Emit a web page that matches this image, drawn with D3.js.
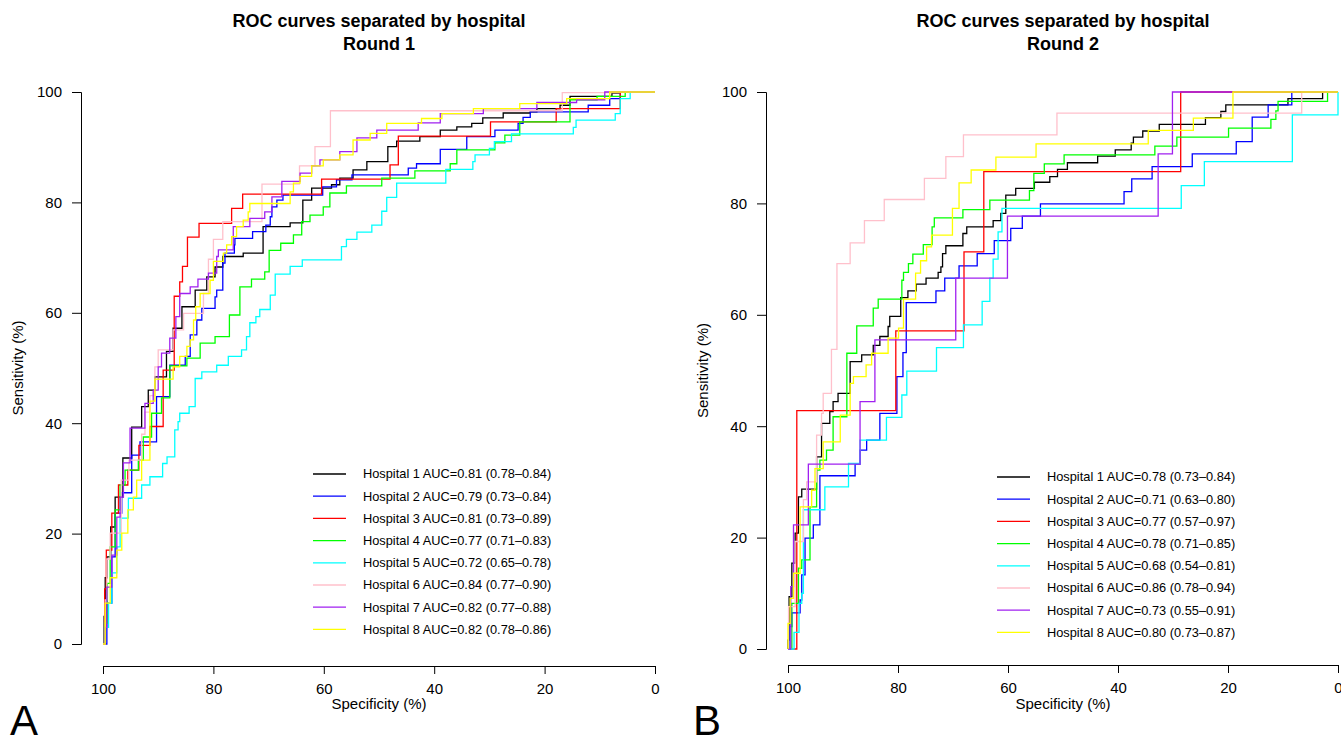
<!DOCTYPE html>
<html>
<head>
<meta charset="utf-8">
<script src="https://cdn.jsdelivr.net/npm/d3@7"></script>
<style>
  body { margin: 0; background: white; }
  text { font-family: "Liberation Sans", Arial, Helvetica, sans-serif; }
</style>
</head>
<body>
<script>
const hospitals = ["Hospital 1", "Hospital 2", "Hospital 3", "Hospital 4", "Hospital 5", "Hospital 6", "Hospital 7", "Hospital 8"];
const colors = ["black", "blue", "red", "#00ff00", "cyan", "pink", "#a020f0", "yellow"];
const ticks = [0, 20, 40, 60, 80, 100];

const aucR1 = [0.81, 0.79, 0.81, 0.77, 0.72, 0.84, 0.82, 0.82];
const loR1  = [0.78, 0.73, 0.73, 0.71, 0.65, 0.77, 0.77, 0.78];
const hiR1  = [0.84, 0.84, 0.89, 0.83, 0.78, 0.90, 0.88, 0.86];
const aucR2 = [0.78, 0.71, 0.77, 0.78, 0.68, 0.86, 0.73, 0.80];
const loR2  = [0.73, 0.63, 0.57, 0.71, 0.54, 0.78, 0.55, 0.73];
const hiR2  = [0.84, 0.80, 0.97, 0.85, 0.81, 0.94, 0.91, 0.87];

// [specificity, sensitivity] in %, step after each point
const r1h1 = [[100,0],[99.8,5],[99.6,12],[99.3,15.8],[98.6,21.2],[97.8,26.6],[96.4,33.7],[94.8,39.3],[93,43],[91.8,46],[90.6,48.4],[88.5,53],[87.3,57.2],[85.7,61.1],[83.3,64.1],[81.2,66.5],[79.7,68.3],[78.3,70.2],[74.6,70.8],[71,75.6],[66.1,76.3],[63.8,80.4],[62.2,82.6],[58.6,83.2],[57.1,84.4],[54.7,85.9],[52.2,87.4],[48.4,90.1],[46.8,91.1],[42.6,91.9],[38.9,93.1],[35.9,93.7],[33.2,94.3],[31.2,95.3],[27.5,96.2],[22.6,96.4],[21.4,97],[17.2,97.6],[15.4,99.2],[7.8,99.8],[6.3,100],[0,100]];
const r1h2 = [[100,0],[99.3,7.4],[98.4,15.8],[97.8,23.7],[96.6,27.4],[94.8,34.2],[93.3,36.6],[90.3,44.8],[87.9,50.5],[85.1,52.1],[84.2,56.0],[83.0,58.7],[82.1,60.8],[79.7,62.9],[79.4,64.1],[78.3,69.0],[77.9,70.8],[76.2,72.3],[76.1,73.5],[72.9,74.7],[70.5,75.9],[69.7,77.4],[69.4,79.2],[68.5,80.4],[67.4,81.3],[60.2,82.8],[57.7,84.1],[54.9,85.0],[44.7,86.2],[43.2,87.0],[38.9,89.6],[34.1,91.9],[29.0,93.1],[24.8,94.3],[23.9,95.4],[22.6,96.4],[12.1,97.6],[8.2,98.8],[6.3,100],[0,100]];
const r1h3 = [[100,0],[99.7,10],[99.4,17],[98.4,23.7],[97.2,28.8],[95.5,31.5],[93.5,36],[91.5,39.4],[89.1,49.6],[87.1,63.0],[86.1,65.6],[85.6,68.4],[84.7,73.7],[82.6,76.2],[76.7,78.9],[74.7,81.5],[60.4,84.2],[48.0,86.8],[46.5,92.0],[29.8,94.6],[17.9,97.0],[6.3,100],[0,100]];
const r1h4 = [[100,0],[99.6,3.8],[99.2,11],[98.7,17.6],[97.8,24.3],[96.9,28.8],[96.0,31.5],[93.6,33.3],[92.7,37.5],[91.2,41.8],[89.4,44.6],[87.9,50.4],[84.8,51.8],[82.4,54.5],[79.7,55.7],[77.1,59.6],[75.2,64.7],[73.1,66.1],[70.7,67.4],[69.9,71.3],[67.8,72.6],[65.5,74.1],[64.0,76.5],[62.5,77.7],[60.1,79.2],[58.9,81.7],[55.9,83.0],[49.5,84.4],[43.5,85.7],[37.1,87.0],[35.9,89.5],[29.0,90.8],[27.2,92.2],[24.5,94.6],[15.4,98.6],[10.5,99.2],[5.4,100],[0,100]];
const r1h5 = [[100,0],[99.6,3],[99.0,7.4],[98.4,12.9],[97.5,17.6],[96.9,22.8],[95.4,26.4],[93.0,28.8],[91.5,30.3],[89.2,32.7],[88.4,33.9],[87.0,38.8],[86.4,40.3],[86.1,41.8],[84.4,43.0],[83.3,48.1],[82.1,49.3],[79.4,50.5],[77.3,52.1],[74.9,53.3],[74.0,55.7],[73.4,58.2],[72.3,59.3],[71.6,60.6],[69.7,63.2],[68.8,67.0],[66.1,68.4],[63.9,69.6],[56.8,72.0],[55.9,73.3],[54.0,74.6],[51.3,75.9],[49.5,78.4],[48.6,80.9],[46.8,83.5],[37.9,86.0],[33.0,87.4],[32.6,88.6],[30.0,89.8],[29.1,91.0],[26.0,92.4],[14.8,93.6],[14.3,94.9],[7.2,96.1],[6.3,98.8],[4.5,100],[0,100]];
const r1h6 = [[100,0],[99.6,8],[99.3,15.4],[98.7,20.1],[96.7,29.7],[95.3,33.3],[93,38],[92.4,42],[91.5,45],[90.6,50.2],[90.0,53.3],[87.3,56.9],[85.4,59.9],[81.8,63.5],[80.9,69.7],[80.0,73.3],[78.3,76.5],[71.2,83.3],[64.4,86.6],[61.6,90.1],[58.8,96.6],[16.8,99.9],[6.5,100],[0,100]];
const r1h7 = [[100,0],[99.6,3],[99.3,10.3],[98.4,16.1],[97.5,23],[96.9,26.6],[96.3,32.8],[95.1,39.1],[92.4,43.6],[90.9,46],[90.0,50.2],[89.4,52.7],[87.9,55.4],[86.8,59.3],[86.1,63.5],[84.2,64.7],[82.8,66.1],[80.9,67.2],[79.4,70.2],[79.1,71.4],[76.4,75.6],[73.4,77.1],[70.7,78.3],[69.4,81.0],[67.6,83.8],[64.3,85.3],[62.2,86.6],[60.7,87.7],[57.1,89.2],[54.0,91.7],[50.4,93.1],[42.9,94.4],[38.9,96.1],[31.1,97.0],[21.4,98.1],[14.2,98.6],[9.1,100],[0,100]];
const r1h8 = [[100,0],[99.6,7.4],[98.7,12],[97.5,17],[96.6,20.1],[95.5,24.3],[94.5,26.6],[93.9,29.7],[93.0,33.3],[91.5,44],[90.6,48],[87.3,50.2],[86.1,52.1],[84.8,53.9],[84.2,55.1],[83.6,58.7],[83.2,61.1],[82.4,63.5],[80.6,65.9],[80.0,69.3],[78.2,70.8],[77.6,72.3],[76.7,73.8],[75.8,75.6],[74.6,76.8],[73.7,78.3],[73.4,79.8],[66.1,81.9],[65.5,83.5],[64.3,84.7],[62.2,86.6],[60.1,87.7],[57.1,88.6],[54.7,91.3],[51.6,92.5],[48.6,94.3],[42.3,95.2],[38.6,96.1],[32.9,97.0],[24.5,97.9],[16.0,98.8],[8.2,100],[0,100]];

const r2h1 = [[100,0],[100,1.6],[99.8,9.4],[99.3,15.4],[98.7,20.8],[98.1,27.3],[97.5,28.7],[94.8,34.5],[93.9,40.5],[92.4,42.6],[91.8,44.4],[90.9,45.9],[88.7,51.6],[86.6,52.8],[84.5,54.5],[83.3,56.1],[81.8,57.9],[81.5,59.7],[79.5,63.1],[78.2,64.3],[76.7,65.5],[74.9,66.6],[72.7,67.6],[72.2,68.6],[71.9,71.0],[71.3,72.4],[68.2,74.6],[67.5,75.8],[62.7,76.9],[61.3,78.2],[60.4,81.5],[58.6,82.7],[55.2,83.8],[52.4,84.8],[51.0,86.1],[49.2,87.3],[43.7,88.5],[40.5,89.6],[37.6,90.8],[37.2,91.9],[35.5,93.0],[32.5,94.2],[24.1,95.4],[21.3,96.5],[20.4,97.7],[9.1,98.8],[2.8,100],[0,100]];
const r2h2 = [[100,0],[99.8,4.0],[99.3,6.5],[97.8,8.8],[97.5,13.3],[96.9,19.9],[95.4,22.3],[94.2,31.1],[87.8,33.2],[86.9,35.7],[85.7,37.5],[83.3,42.3],[80.2,48.9],[79.1,53.2],[78.5,62.2],[73.1,64.3],[71.5,66.6],[68.9,68.8],[65.6,71.0],[62.5,73.3],[59.5,75.5],[57.4,77.7],[54.1,79.9],[38.9,82.1],[37.5,84.4],[33.8,86.6],[26.5,88.9],[18.5,91.1],[15.6,95.5],[12.7,97.7],[8.4,100],[0,100]];
const r2h3 = [[100,0],[98.4,0],[98.4,42.8],[80.4,57.1],[68.0,71.3],[64.4,85.7],[28.6,100],[0,100]];
const r2h4 = [[100,0],[99.6,0],[99.3,8.2],[98.1,14.5],[97.5,16],[96.0,25.5],[94.8,32.1],[94.2,33.9],[93.0,35.7],[91.8,41.7],[89.3,53.1],[87.5,58.0],[84.5,61.2],[83.6,62.8],[79.3,66.2],[79.0,67.6],[78.1,69.2],[77.3,70.9],[75.4,72.6],[73.8,75.8],[73.4,77.4],[68.2,78.9],[63.3,80.6],[56.1,82.3],[55.3,85.4],[53.4,87.1],[49.8,88.7],[33.3,90.3],[29.3,91.9],[19.9,93.5],[12.2,95.1],[11.3,96.6],[10.9,98.3],[1.9,100],[0,100]];
const r2h5 = [[100,0],[98.9,3],[98.0,8.2],[97.5,10],[97.2,25.0],[93.3,29.1],[89.0,33.3],[86.9,37.5],[82.1,41.6],[79.3,45.6],[78.4,49.9],[73.0,54.1],[68.1,58.2],[64.7,62.4],[63.3,66.6],[62.7,70],[61.8,74.9],[61.1,79.1],[28.5,83.2],[24.3,87.5],[8.3,95.9],[0,100]];
const r2h6 = [[100,0],[99.9,7.6],[98.7,19.3],[97.2,26.8],[96.6,30],[94.8,38.4],[93.9,42.3],[93.6,45.9],[92.1,53.8],[91.1,69.2],[88.7,72.9],[86.1,76.9],[82.5,80.7],[75.2,84.5],[71.3,88.4],[68.1,92.3],[51.1,96.2],[6.6,100],[0,100]];
const r2h7 = [[100,0],[99.5,0],[99.5,11.2],[99.0,22.3],[96.3,33.2],[86.9,44.4],[84.2,55.5],[69.5,66.6],[60.1,77.7],[32.7,88.9],[30.1,100],[0,100]];
const r2h8 = [[100,0],[100,4.6],[99.6,9.1],[99.0,13.6],[97.8,25.5],[95.7,28.5],[95.1,32.4],[93.6,37.2],[90.5,42.0],[88.7,47.7],[88.1,48.9],[85.8,51.0],[84.8,53.1],[81.8,55.8],[79.9,57.6],[79.0,62.8],[76.8,67.5],[75.9,69.7],[74.8,72.2],[73.9,74.3],[70.1,79.1],[68.9,83.7],[66.7,86.0],[62.2,88.3],[54.9,90.7],[34.5,93.1],[26.3,95.3],[19.1,100],[0,100]];

const panels = [
  {round: "Round 1", letter: "A", curves: [r1h1, r1h2, r1h3, r1h4, r1h5, r1h6, r1h7, r1h8],
   auc: aucR1, lo: loR1, hi: hiR1,
   x0: 103, x1: 655, y0: 644, y1: 92, xAxisY: 666, yAxisX: 81, legX: 313, legY: 474, ylabX: 18, letterX: 10},
  {round: "Round 2", letter: "B", curves: [r2h1, r2h2, r2h3, r2h4, r2h5, r2h6, r2h7, r2h8],
   auc: aucR2, lo: loR2, hi: hiR2,
   x0: 788, x1: 1338, y0: 649, y1: 92, xAxisY: 665, yAxisX: 766, legX: 997, legY: 477, ylabX: 703, letterX: 693}
];

const svg = d3.select("body").append("svg")
    .attr("width", 1341)
    .attr("height", 738);

const fmt = d3.format(".2f");

panels.forEach(p => {
  const x = d3.scaleLinear().domain([100, 0]).range([p.x0, p.x1]);
  const y = d3.scaleLinear().domain([0, 100]).range([p.y0, p.y1]);
  const cx = p.yAxisX + (p.x1 + 22 - p.yAxisX) / 2;

  const g = svg.append("g");

  // axes
  const xa = g.append("g")
      .attr("transform", `translate(0,${p.xAxisY})`)
      .call(d3.axisBottom(x).tickValues(ticks).tickSizeOuter(0).tickSize(8).tickPadding(9));
  const ya = g.append("g")
      .attr("transform", `translate(${p.yAxisX},0)`)
      .call(d3.axisLeft(y).tickValues(ticks).tickSizeOuter(0).tickSize(9).tickPadding(10));
  [xa, ya].forEach(a => {
    a.selectAll("text").style("font-size", "15px").attr("fill", "#000");
    a.selectAll("line, path").attr("stroke", "#000").attr("stroke-width", 1);
    a.attr("font-family", null);
  });

  // titles
  g.append("text").attr("x", cx).attr("y", 27).attr("text-anchor", "middle")
      .style("font-size", "18px").style("font-weight", "bold").text("ROC curves separated by hospital");
  g.append("text").attr("x", cx).attr("y", 50).attr("text-anchor", "middle")
      .style("font-size", "18px").style("font-weight", "bold").text(p.round);

  g.append("text").attr("x", cx).attr("y", 709).attr("text-anchor", "middle")
      .style("font-size", "15px").text("Specificity (%)");
  g.append("text")
      .attr("transform", `translate(${p.ylabX + 5},${(p.y0 + p.y1) / 2}) rotate(-90)`)
      .attr("text-anchor", "middle")
      .style("font-size", "15px").text("Sensitivity (%)");

  g.append("text").attr("x", p.letterX).attr("y", 735)
      .style("font-size", "42px").text(p.letter);

  // curves
  const line = d3.line()
      .x(d => x(d[0]))
      .y(d => y(d[1]))
      .curve(d3.curveStepAfter);

  g.selectAll("path.roc")
      .data(p.curves)
    .enter().append("path")
      .attr("class", "roc")
      .attr("d", line)
      .attr("fill", "none")
      .attr("stroke", (d, i) => colors[i])
      .attr("stroke-width", 1.3);

  // legend
  const leg = g.selectAll("g.leg")
      .data(hospitals)
    .enter().append("g")
      .attr("class", "leg")
      .attr("transform", (d, i) => `translate(${p.legX},${p.legY + i * 22.2})`);
  leg.append("line")
      .attr("x1", 0).attr("x2", 33)
      .attr("stroke", (d, i) => colors[i])
      .attr("stroke-width", 1.3);
  leg.append("text")
      .attr("x", 50)
      .attr("dy", "0.35em")
      .style("font-size", "12.8px")
      .text((d, i) => `${d} AUC=${fmt(p.auc[i])} (${fmt(p.lo[i])}\u2013${fmt(p.hi[i])})`);
});
</script>
</body>
</html>
